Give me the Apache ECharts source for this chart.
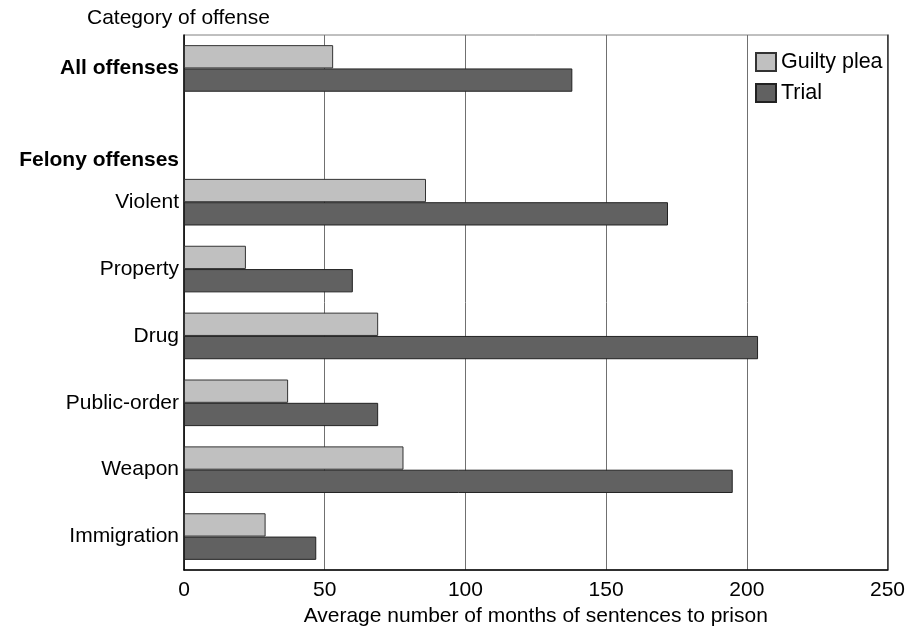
<!DOCTYPE html>
<html>
<head>
<meta charset="utf-8">
<script src="https://cdn.jsdelivr.net/npm/echarts@6/dist/echarts.min.js"></script>
<style>html,body{margin:0;padding:0;background:#fff;}#c{width:924px;height:639px;}</style>
</head>
<body>
<div id="c"></div>
<script>
var categories = ['All offenses', 'Felony offenses', 'Violent', 'Property', 'Drug', 'Public-order', 'Weapon', 'Immigration'];
var guiltyPlea = [53, null, 86, 22, 69, 37, 78, 29];
var trial = [138, null, 172, 60, 204, 69, 195, 47];
var xTicks = [0, 50, 100, 150, 200, 250];

var FONT = '"Liberation Sans", Arial, sans-serif';
var FS = 21;
var chart = echarts.init(document.getElementById('c'), null, {renderer: 'canvas'});

chart.setOption({
  animation: false,
  backgroundColor: '#fff',
  textStyle: {fontFamily: FONT},
  title: {
    text: 'Category of offense',
    left: 82, top: 3,
    textStyle: {fontFamily: FONT, fontSize: FS, fontWeight: 'normal', color: '#000'}
  },
  legend: {
    data: ['Guilty plea', 'Trial'],
    orient: 'vertical',
    left: 750, top: 46,
    itemWidth: 20, itemHeight: 18, itemGap: 9,
    icon: 'rect',
    textStyle: {fontFamily: FONT, fontSize: 21.5, color: '#000'}
  },
  grid: {
    left: 184, top: 35, right: 36.5, bottom: 69,
    show: true, borderColor: '#808080', borderWidth: 1,
    containLabel: false
  },
  xAxis: {
    type: 'value', min: 0, max: 250, interval: 50,
    name: 'Average number of months of sentences to prison',
    nameLocation: 'middle', nameGap: 32,
    nameTextStyle: {fontFamily: FONT, fontSize: FS, color: '#000'},
    axisLine: {show: true, lineStyle: {color: '#000', width: 1.5}},
    axisTick: {show: false},
    axisLabel: {
      fontFamily: FONT, fontSize: FS, color: '#000', margin: 10,
      formatter: function (v) { return xTicks.indexOf(v) >= 0 ? String(v) : ''; }
    },
    splitLine: {show: true, lineStyle: {color: '#707070', width: 1}}
  },
  yAxis: [{
    type: 'category', inverse: true,
    data: categories,
    axisLine: {show: true, lineStyle: {color: '#000', width: 1.5}},
    axisTick: {show: false},
    axisLabel: {
      fontFamily: FONT, fontSize: FS, color: '#000', margin: 5,
      formatter: function (v) {
        if (v === 'All offenses') return '{b|' + v + '}';
        if (v === 'Felony offenses') return '{s| }\n{b|' + v + '}';
        return v;
      },
      rich: {
        b: {fontFamily: FONT, fontSize: FS, fontWeight: 'bold', color: '#000', lineHeight: 24},
        s: {fontSize: 10, lineHeight: 50}
      }
    },
    splitLine: {show: false}
  }, {
    type: 'category', inverse: true, position: 'right',
    data: categories,
    axisLine: {show: true, lineStyle: {color: '#333', width: 1.5}},
    axisTick: {show: false},
    axisLabel: {show: false},
    splitLine: {show: false}
  }],
  series: [{
    name: 'Guilty plea', type: 'bar', yAxisIndex: 0,
    data: guiltyPlea,
    barWidth: 23.3, barGap: '0%',
    itemStyle: {color: '#c0c0c0', borderColor: '#333', borderWidth: 1}
  }, {
    name: 'Trial', type: 'bar', yAxisIndex: 0,
    data: trial,
    barWidth: 23.3, barGap: '0%',
    itemStyle: {color: '#616161', borderColor: '#222', borderWidth: 1}
  }]
});
</script>
</body>
</html>
